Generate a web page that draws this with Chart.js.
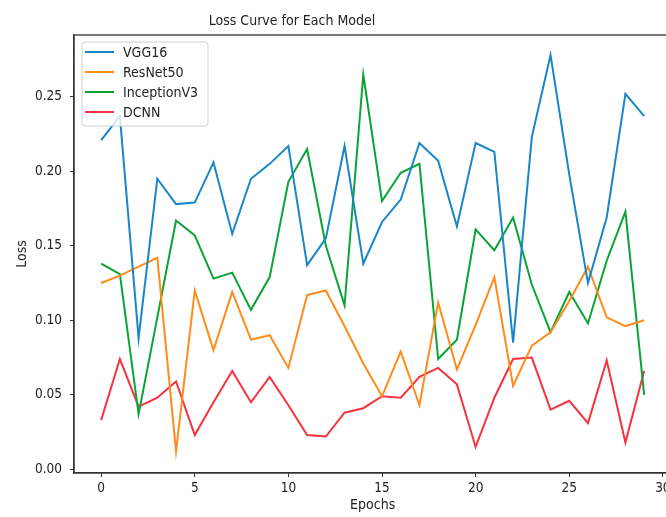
<!DOCTYPE html>
<html>
<head>
<meta charset="utf-8">
<script src="https://cdn.jsdelivr.net/npm/chart.js@4.4.1/dist/chart.umd.min.js"></script>
<style>
    html, body { margin: 0; padding: 0; background: #fff; overflow: hidden; }
    #wrap { width: 700px; height: 517px; position: relative; }
</style>
</head>
<body>
<div id="wrap"><canvas id="loss-chart"></canvas></div>
<script>
var epochs = [0, 1, 2, 3, 4, 5, 6, 7, 8, 9, 10, 11, 12, 13, 14, 15, 16, 17, 18, 19, 20, 21, 22, 23, 24, 25, 26, 27, 28, 29];
var vgg16 = [0.221, 0.237, 0.088, 0.195, 0.178, 0.179, 0.206, 0.158, 0.195, 0.205, 0.217, 0.137, 0.155, 0.217, 0.138,
    0.166, 0.181, 0.219, 0.207, 0.163, 0.219, 0.213, 0.085, 0.223, 0.278, 0.198, 0.125, 0.169, 0.252, 0.237];
var resnet50 = [0.125, 0.130, 0.136, 0.142, 0.012, 0.120, 0.080, 0.119, 0.087, 0.090, 0.068, 0.117, 0.120, 0.096, 0.071,
    0.049, 0.079, 0.043, 0.112, 0.067, 0.097, 0.129, 0.056, 0.083, 0.092, 0.113, 0.136, 0.102, 0.096, 0.100];
var inceptionV3 = [0.138, 0.131, 0.037, 0.102, 0.167, 0.157, 0.128, 0.132, 0.107, 0.129, 0.193, 0.215, 0.150, 0.110, 0.265,
    0.180, 0.199, 0.205, 0.074, 0.087, 0.161, 0.147, 0.169, 0.124, 0.092, 0.119, 0.098, 0.140, 0.173, 0.050];
var dcnn = [0.033, 0.074, 0.042, 0.048, 0.059, 0.023, 0.045, 0.066, 0.045, 0.062, 0.043, 0.023, 0.022, 0.038, 0.041,
    0.049, 0.048, 0.062, 0.068, 0.057, 0.015, 0.048, 0.074, 0.075, 0.040, 0.046, 0.031, 0.073, 0.018, 0.066];
var xTicks = [0, 5, 10, 15, 20, 25, 30];
var yTicks = [0.00, 0.05, 0.10, 0.15, 0.20, 0.25];
var seriesNames = ['VGG16', 'ResNet50', 'InceptionV3', 'DCNN'];

var FONT = '"DejaVu Sans Condensed", "DejaVu Sans", sans-serif';
var AXIS = '#333333';

function toPoints(values) {
    return values.map((v, i) => ({x: epochs[i], y: v}));
}

// frame (top/right spines), title and legend are drawn by hand
var extras = {
    id: 'extras',
    afterDraw(chart) {
        var ctx = chart.ctx;
        var a = chart.chartArea;
        ctx.save();

        ctx.strokeStyle = AXIS;
        ctx.lineWidth = 1.3;
        ctx.strokeRect(a.left, a.top, a.right - a.left, a.bottom - a.top);

        ctx.fillStyle = '#222';
        ctx.font = '14px ' + FONT;
        ctx.textAlign = 'center';
        ctx.textBaseline = 'middle';
        ctx.fillText('Loss Curve for Each Model', 292, 21);

        var bx = 82, by = 42, bw = 126, bh = 84;
        ctx.beginPath();
        ctx.roundRect(bx, by, bw, bh, 3);
        ctx.fillStyle = 'rgba(255,255,255,0.8)';
        ctx.fill();
        ctx.strokeStyle = '#d0d0d0';
        ctx.lineWidth = 1;
        ctx.stroke();

        ctx.font = '14px ' + FONT;
        ctx.textAlign = 'left';
        chart.data.datasets.forEach((ds, i) => {
            var y = 52 + i * 20;
            ctx.beginPath();
            ctx.moveTo(85, y);
            ctx.lineTo(114, y);
            ctx.strokeStyle = ds.borderColor;
            ctx.lineWidth = 2;
            ctx.stroke();
            ctx.fillStyle = '#222';
            ctx.fillText(ds.label, 123, y + 1);
        });

        ctx.restore();
    }
};

var lineColors = ['#1887c9', '#ff8c1a', '#0aa336', '#f73240'];
var allSeries = [vgg16, resnet50, inceptionV3, dcnn];

new Chart(document.getElementById('loss-chart'), {
    type: 'line',
    data: {
        datasets: allSeries.map((values, i) => ({
            label: seriesNames[i],
            data: toPoints(values),
            borderColor: lineColors[i],
            backgroundColor: lineColors[i],
            borderWidth: 2,
            pointRadius: 0,
            tension: 0,
            fill: false
        }))
    },
    options: {
        responsive: true,
        maintainAspectRatio: false,
        animation: false,
        layout: {
            padding: {top: 35, right: 28.7, left: 0, bottom: 0}
        },
        plugins: {
            legend: {display: false},
            title: {display: false},
            tooltip: {enabled: false}
        },
        scales: {
            x: {
                type: 'linear',
                min: -1.45,
                max: 30.45,
                afterFit: (s) => { s.height = 44; },
                afterBuildTicks: (s) => { s.ticks = xTicks.map(v => ({value: v})); },
                grid: {drawOnChartArea: false, drawTicks: true, tickLength: 4, tickColor: AXIS, tickWidth: 1},
                border: {display: true, color: AXIS, width: 1.3},
                ticks: {
                    color: '#222',
                    padding: 3,
                    maxRotation: 0,
                    font: {family: FONT, size: 13.5},
                    callback: (v) => String(v)
                },
                title: {
                    display: true,
                    text: 'Epochs',
                    color: '#222',
                    font: {family: FONT, size: 14},
                    padding: {top: 0, bottom: 3}
                }
            },
            y: {
                type: 'linear',
                min: -0.0025,
                max: 0.2915,
                afterFit: (s) => { s.width = 74; },
                afterBuildTicks: (s) => { s.ticks = yTicks.map(v => ({value: v})); },
                grid: {drawOnChartArea: false, drawTicks: true, tickLength: 4, tickColor: AXIS, tickWidth: 1},
                border: {display: true, color: AXIS, width: 1.3},
                ticks: {
                    color: '#222',
                    padding: 8,
                    font: {family: FONT, size: 13.5},
                    callback: (v) => v.toFixed(2)
                },
                title: {
                    display: true,
                    text: 'Loss',
                    color: '#222',
                    font: {family: FONT, size: 14},
                    padding: {top: 14, bottom: 0}
                }
            }
        }
    },
    plugins: [extras]
});
</script>
</body>
</html>
